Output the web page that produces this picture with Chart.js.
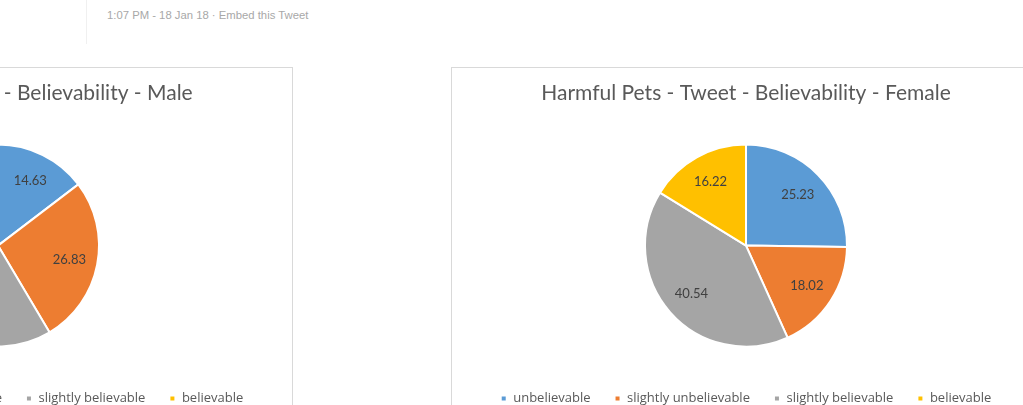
<!DOCTYPE html>
<html>
<head>
<meta charset="utf-8">
<script src="https://cdn.jsdelivr.net/npm/chart.js@4/dist/chart.umd.min.js"></script>
<style>
html,body{margin:0;padding:0;background:#fff;width:1023px;height:405px;overflow:hidden;position:relative;}
#tweetline{position:absolute;left:86px;top:0;width:1px;height:44px;background:#f0f0f0;}
#tweetmeta{position:absolute;left:107px;top:9px;font:11.3px "Liberation Sans",Arial,sans-serif;color:#a8a8a8;white-space:nowrap;}
.box{position:absolute;top:67px;width:588px;height:370px;border:1px solid #d9d9d9;background:#fff;}
.box canvas{position:absolute;left:0;top:0;}
</style>
</head>
<body>
<div id="tweetline"></div>
<div id="tweetmeta">1:07 PM - 18 Jan 18 · Embed this Tweet</div>
<div class="box" style="left:-297px"><canvas id="male" width="588" height="347"></canvas></div>
<div class="box" style="left:451px"><canvas id="female" width="588" height="347"></canvas></div>
<script>
const categories = ["unbelievable", "slightly unbelievable", "slightly believable", "believable"];
const maleValues = [14.63, 26.83, 31.71, 26.83];
const femaleValues = [25.23, 18.02, 40.54, 16.22];
const maleTitle = "Harmful Pets - Tweet - Believability - Male";
const femaleTitle = "Harmful Pets - Tweet - Believability - Female";
const sliceColors = ["#5B9BD5", "#ED7D31", "#A5A5A5", "#FFC000"];

const valueLabels = {
  id: "valueLabels",
  afterDatasetsDraw(chart) {
    const ctx = chart.ctx;
    const meta = chart.getDatasetMeta(0);
    const data = chart.data.datasets[0].data;
    ctx.save();
    ctx.font = '13px "Lato", "Open Sans", sans-serif';
    ctx.fillStyle = "#404040";
    ctx.textAlign = "center";
    ctx.textBaseline = "middle";
    meta.data.forEach((arc, i) => {
      const p = arc.getProps(["x", "y", "startAngle", "endAngle", "outerRadius"], true);
      const mid = (p.startAngle + p.endAngle) / 2;
      const r = p.outerRadius * 0.72;
      ctx.fillText(data[i].toFixed(2), p.x + Math.cos(mid) * r, p.y + Math.sin(mid) * r);
    });
    ctx.restore();
  }
};

function makePie(id, values, title) {
  return new Chart(document.getElementById(id), {
    type: "pie",
    data: {
      labels: categories,
      datasets: [{
        data: values,
        backgroundColor: sliceColors,
        borderColor: "#ffffff",
        borderWidth: 2,
        radius: 101
      }]
    },
    options: {
      responsive: false,
      animation: false,
      layout: { padding: 0 },
      plugins: {
        title: {
          display: true,
          text: title,
          color: "#595959",
          font: { family: '"Lato", "Open Sans", sans-serif', size: 21, weight: "normal" },
          padding: { top: 13, bottom: 17 }
        },
        legend: {
          display: true,
          position: "bottom",
          labels: {
            boxWidth: 6,
            boxHeight: 6,
            padding: 24,
            color: "#595959",
            font: { family: '"Open Sans", sans-serif', size: 13 }
          }
        },
        tooltip: { enabled: false }
      }
    },
    plugins: [valueLabels]
  });
}
makePie("male", maleValues, maleTitle);
makePie("female", femaleValues, femaleTitle);
</script>
</body>
</html>
